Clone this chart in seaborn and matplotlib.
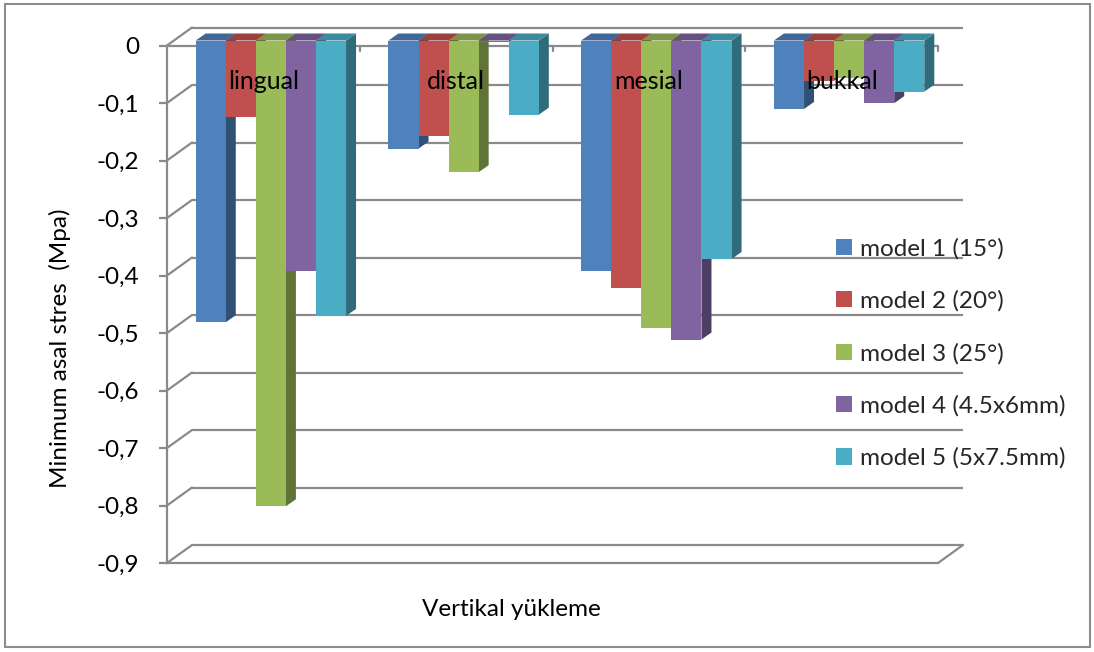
import numpy as np
import pandas as pd
import matplotlib
matplotlib.use("Agg")
import matplotlib.pyplot as plt
import seaborn as sns
from matplotlib.patches import Polygon, Rectangle, Patch
from matplotlib.transforms import ScaledTranslation

# ---- data -------------------------------------------------------------
categories = ["lingual", "distal", "mesial", "bukkal"]
series_names = ["model 1 (15°)", "model 2 (20°)", "model 3 (25°)",
                "model 4 (4.5x6mm)", "model 5 (5x7.5mm)"]
model1 = [-0.49, -0.188, -0.40, -0.119]
model2 = [-0.133, -0.166, -0.43, -0.07]
model3 = [-0.81, -0.229, -0.50, -0.066]
model4 = [-0.40, -0.003, -0.52, -0.109]
model5 = [-0.479, -0.129, -0.38, -0.089]
y_ticks = [0, -0.1, -0.2, -0.3, -0.4, -0.5, -0.6, -0.7, -0.8, -0.9]
y_tick_labels = ["0", "-0,1", "-0,2", "-0,3", "-0,4", "-0,5", "-0,6",
                 "-0,7", "-0,8", "-0,9"]
colors = ["#4F81BD", "#C0504D", "#9BBB59", "#8064A2", "#4BACC6"]

rows = []
for name, vals in zip(series_names, [model1, model2, model3, model4, model5]):
    for cat, v in zip(categories, vals):
        rows.append({"category": cat, "model": name, "value": v})
df = pd.DataFrame(rows)

# ---- figure -----------------------------------------------------------
sns.set_theme(style="white")
plt.rcParams["font.family"] = ["Lato", "DejaVu Sans"]

W, H, DPI = 1094, 652, 100
FS = 17.5
fig = plt.figure(figsize=(W / DPI, H / DPI), dpi=DPI)
ax = fig.add_axes([167 / W, 89 / H, (938 - 167) / W, (563 - 45.5) / H])

GRID = "#8A8A8A"
sns.barplot(data=df, x="category", y="value", hue="model", order=categories,
            hue_order=series_names, palette=colors, width=0.78, ax=ax,
            saturation=1, edgecolor="none", linewidth=0, legend=False)

ax.set_xlim(-0.5, 3.5)
ax.set_ylim(-0.9, 0)
fig.canvas.draw()

# pixel -> data unit helpers
px_x = 4.0 / ax.bbox.width
px_y = 0.9 / ax.bbox.height

# back wall offset and bar depth (pixels)
wall_dx, wall_dy = 25 * px_x, 18 * px_y
depth_dx, depth_dy = 10 * px_x, 7 * px_y
bar_shift = ScaledTranslation(7.5 / DPI, 5 / DPI, fig.dpi_scale_trans)

# back wall gridlines and left wall diagonals
for v in y_ticks:
    ax.plot([-0.5 + wall_dx, 3.5 + wall_dx], [v + wall_dy, v + wall_dy],
            color=GRID, lw=1.6, clip_on=False, zorder=1, solid_capstyle="butt")
    ax.plot([-0.5, -0.5 + wall_dx], [v, v + wall_dy], color=GRID, lw=1.6,
            clip_on=False, zorder=1)
# floor: front edge and right diagonal
ax.plot([-0.5, 3.5], [-0.9, -0.9], color=GRID, lw=1.6, clip_on=False, zorder=1)
ax.plot([3.5, 3.5 + wall_dx], [-0.9, -0.9 + wall_dy], color=GRID, lw=1.6,
        clip_on=False, zorder=1)
# category axis along the zero line with boundary ticks
ax.plot([-0.5, 3.5], [0, 0], color=GRID, lw=1.6, clip_on=False, zorder=1)
for b in [0.5, 1.5, 2.5, 3.5]:
    ax.plot([b, b], [0, -5 * px_y], color=GRID, lw=1.6, clip_on=False, zorder=1)

# 3D bars: front face from seaborn plus side and top faces
def shade(c, f):
    r, g, b = matplotlib.colors.to_rgb(c)
    return (r * f, g * f, b * f)

patches = sorted([p for p in ax.patches if p.get_width() > 0],
                 key=lambda p: p.get_x())
z = 3
for p in patches:
    x0, w = p.get_x(), p.get_width()
    y0, h = p.get_y(), p.get_height()
    x1 = x0 + w
    ylo, yhi = min(y0, y0 + h), max(y0, y0 + h)
    c = p.get_facecolor()
    tr = ax.transData + bar_shift
    side = Polygon([(x1, ylo), (x1 + depth_dx, ylo + depth_dy),
                    (x1 + depth_dx, yhi + depth_dy), (x1, yhi)],
                   closed=True, facecolor=shade(c, 0.62), edgecolor="none",
                   transform=tr, clip_on=False, zorder=z)
    top = Polygon([(x0, yhi), (x0 + depth_dx, yhi + depth_dy),
                   (x1 + depth_dx, yhi + depth_dy), (x1, yhi)],
                  closed=True, facecolor=shade(c, 0.8), edgecolor="none",
                  transform=tr, clip_on=False, zorder=z)
    ax.add_patch(side)
    ax.add_patch(top)
    p.set_transform(tr)
    p.set_clip_on(False)
    p.set_zorder(z + 0.5)
    z += 1

# category names inside the plot
for i, cat in enumerate(categories):
    ax.text(i, -0.063, cat, ha="center", va="center", fontsize=FS + 0.5,
            color="black", zorder=100)

# axes styling
sns.despine(ax=ax, top=True, right=True, bottom=True, left=False)
ax.spines["left"].set_color(GRID)
ax.spines["left"].set_linewidth(1.6)
ax.set_yticks(y_ticks)
ax.set_yticklabels(y_tick_labels, fontsize=FS, color="black")
ax.tick_params(axis="y", left=True, length=6, width=1.6, color=GRID, pad=14)
ax.set_xticks([])
ax.set_xlabel("")
ax.set_ylabel("")
ax.set_facecolor("none")

fig.text(60 / W, 1 - 348 / H, "Minimum asal stres  (Mpa)", rotation=90,
         ha="center", va="center", fontsize=FS, color="black")
fig.text(511 / W, 1 - 610 / H, "Vertikal yükleme", ha="center", va="center",
         fontsize=FS, color="black")

handles = [Patch(facecolor=c, edgecolor="none") for c in colors]
fig.legend(handles, series_names, loc="upper left",
           bbox_to_anchor=(836 / W, 1 - 238 / H), bbox_transform=fig.transFigure,
           frameon=False, fontsize=FS, handlelength=0.65, handleheight=0.65,
           handletextpad=0.35, labelspacing=1.27, borderpad=0, borderaxespad=0)

# outer chart border
fig.patches.append(Rectangle((5 / W, 5 / H), 1085 / W, 643 / H,
                             transform=fig.transFigure, fill=False,
                             edgecolor="#8C8C8C", lw=1.5))

fig.savefig("out.png", dpi=DPI)
